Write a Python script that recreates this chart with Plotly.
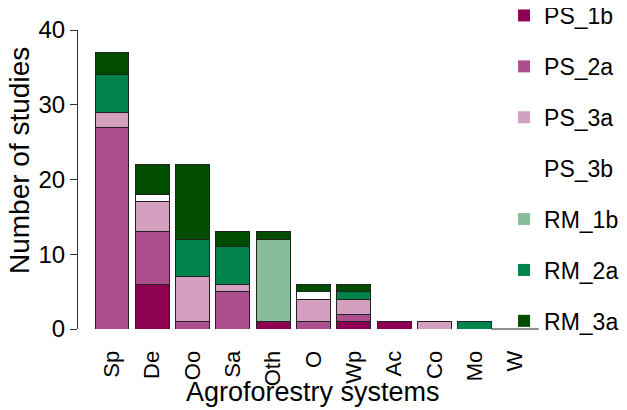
import plotly.graph_objects as go

categories = ["Sp", "De", "Oo", "Sa", "Oth", "O", "Wp", "Ac", "Co", "Mo", "W"]
series_names = ["PS_1b", "PS_2a", "PS_3a", "PS_3b", "RM_1b", "RM_2a", "RM_3a"]
PS_1b = [0, 6, 0, 0, 1, 0, 1, 1, 0, 0, 0]
PS_2a = [27, 7, 1, 5, 0, 1, 1, 0, 0, 0, 0]
PS_3a = [2, 4, 6, 1, 0, 3, 2, 0, 1, 0, 0]
PS_3b = [0, 1, 0, 0, 0, 1, 0, 0, 0, 0, 0]
RM_1b = [0, 0, 0, 0, 11, 0, 0, 0, 0, 0, 0]
RM_2a = [5, 0, 5, 5, 0, 0, 1, 0, 0, 1, 0]
RM_3a = [3, 4, 10, 2, 1, 1, 1, 0, 0, 0, 0]
series_values = [PS_1b, PS_2a, PS_3a, PS_3b, RM_1b, RM_2a, RM_3a]
colors = ["#8E0152", "#AD4F8E", "#D4A0C0", "#FFFFFF", "#88BD9B", "#00824B", "#004D00"]
y_ticks = [0, 10, 20, 30, 40]

FONT = "Liberation Sans, Arial, sans-serif"
OUTLINE = "#222222"

fig = go.Figure()
for name, vals, col in zip(series_names, series_values, colors):
    fig.add_trace(go.Bar(
        x=categories, y=vals, name=name, showlegend=False,
        marker=dict(color=col, line=dict(color=OUTLINE, width=1)),
    ))

# zero-total categories are drawn as a flat outline at 0 (as in base R barplot)
totals = [sum(v[i] for v in series_values) for i in range(len(categories))]
zero_cats = [c for c, t in zip(categories, totals) if t == 0]
fig.add_trace(go.Scatter(
    x=zero_cats, y=[0] * len(zero_cats), mode="markers", showlegend=False,
    hoverinfo="skip", cliponaxis=False,
    marker=dict(symbol="line-ew", size=34, line=dict(color=OUTLINE, width=1.2)),
))

for name, col in zip(series_names, colors):
    fig.add_trace(go.Bar(
        x=[None], y=[None], name=name, legendgroup=name,
        marker=dict(color=col, line=dict(width=0)),
    ))

fig.update_layout(
    width=627, height=402,
    margin=dict(l=70, r=95, t=22, b=81, autoexpand=False),
    barmode="stack", bargap=0.16,
    plot_bgcolor="white", paper_bgcolor="white",
    font=dict(family=FONT, color="black", size=24),
    showlegend=True,
    legend=dict(x=0.9222, xanchor="left", y=1.1204, yanchor="top",
                maxheight=420,
                font=dict(size=23), tracegroupgap=18,
                bgcolor="rgba(0,0,0,0)"),
    xaxis=dict(range=[-0.844, 10.62], tickangle=-90,
               ticks="outside", ticklen=12, tickcolor="rgba(0,0,0,0)",
               tickfont=dict(size=22),
               showline=False, showgrid=False, zeroline=False),
    yaxis=dict(range=[0, 40], tickvals=y_ticks,
               ticks="outside", ticklen=7, tickcolor="#333333",
               showline=True, linecolor="#333333", linewidth=1,
               showgrid=False, zeroline=False, tickfont=dict(size=24)),
    annotations=[
        dict(text="Agroforestry systems", xref="paper", yref="paper",
             x=0.5087, y=-0.2107, xanchor="center", yanchor="middle",
             showarrow=False, font=dict(size=27)),
        dict(text="Number of studies", xref="paper", yref="paper",
             x=-0.1255, y=0.5619, xanchor="center", yanchor="middle",
             textangle=-90, showarrow=False, font=dict(size=28)),
    ],
)
fig.write_html("out.html")
